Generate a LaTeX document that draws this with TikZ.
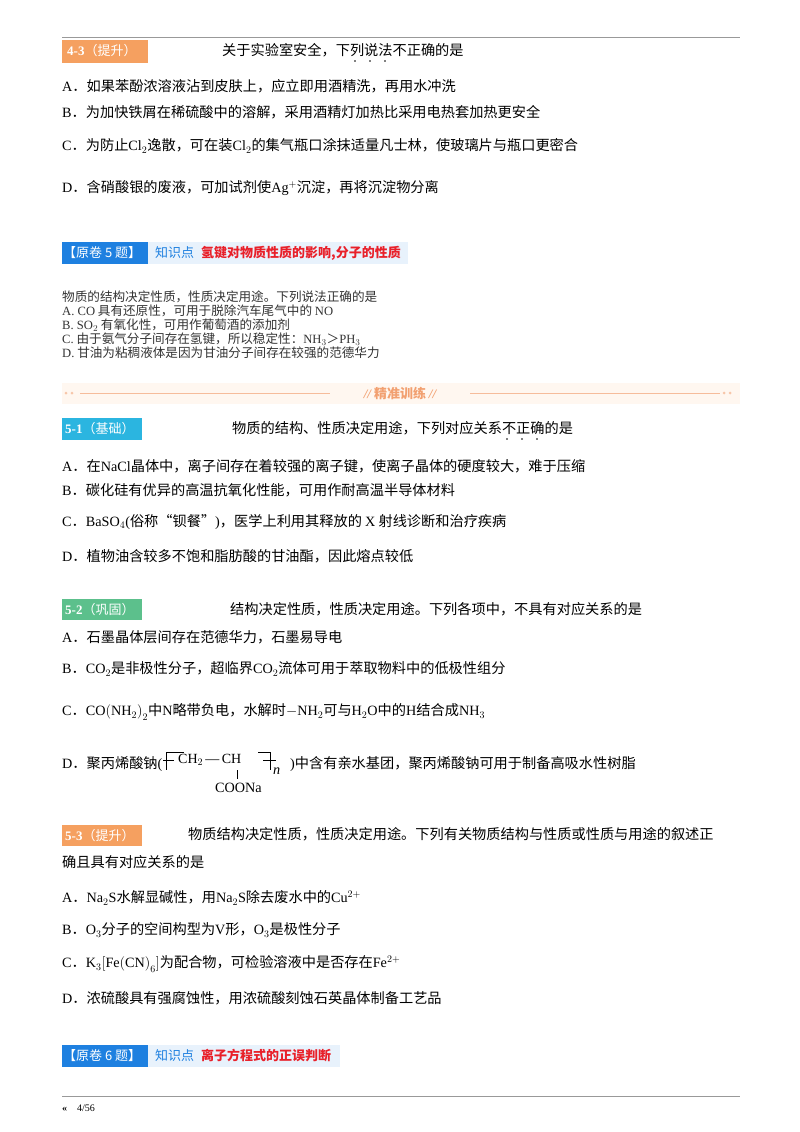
\documentclass[tikz,border=0pt]{standalone}
\usepackage{fontspec}
\setmainfont{Noto Sans CJK SC}
\newfontfamily\lat{Liberation Serif}
\newcommand{\Lt}[1]{{\lat #1}}
\definecolor{tagor}{HTML}{F5A060}
\definecolor{tagcy}{HTML}{2BB5E0}
\definecolor{taggr}{HTML}{5CC08C}
\definecolor{tagbl}{HTML}{1E80E0}
\definecolor{kbg}{HTML}{E8F2FC}
\definecolor{kred}{HTML}{E8202A}
\definecolor{bann}{HTML}{F2A070}
\begin{document}
\begin{tikzpicture}[x=1pt,y=-1pt,
  txt/.style={anchor=west,inner sep=0pt,font=\fontsize{14.2}{16}\selectfont},
  small/.style={anchor=west,inner sep=0pt,font=\fontsize{12.6}{14}\selectfont,text=black!80}]
\useasboundingbox (0,0) rectangle (800,1132);
\fill[white] (0,0) rectangle (800,1132);
\draw[black!40] (62,37) -- (740,37);
% 4-3
\fill[tagor] (62,40) rectangle (148,63);
\node[txt,text=white,font=\fontsize{13}{14}\selectfont] (t43) at (67,51) {\Lt{\bfseries 4-3}（提升）};
\node[txt] (q43) at (222,50) {关于实验室安全，下列说法不正确的是};
\foreach \x in {355,370,385} \fill (\x,61) circle (0.9);
\node[txt] (a43) at (62,86) {\Lt{A}．如果苯酚浓溶液沾到皮肤上，应立即用酒精洗，再用水冲洗};
\node[txt] (b43) at (62,112) {\Lt{B}．为加快铁屑在稀硫酸中的溶解，采用酒精灯加热比采用电热套加热更安全};
\node[txt] (c43) at (62,146) {\Lt{C}．为防止\Lt{Cl$_2$}逸散，可在装\Lt{Cl$_2$}的集气瓶口涂抹适量凡士林，使玻璃片与瓶口更密合};
\node[txt] (d43) at (62,188) {\Lt{D}．含硝酸银的废液，可加试剂使\Lt{Ag$^+$}沉淀，再将沉淀物分离};
% 原卷5
\fill[kbg] (148,242) rectangle (408,264);
\fill[tagbl] (62,242) rectangle (148,264);
\node[txt,text=white,font=\fontsize{13}{14}\selectfont] (y5) at (63,253) {【原卷 5 题】};
\node[txt,text=tagbl,font=\fontsize{13}{14}\selectfont] (k5) at (155,253) {知识点};
\node[txt,text=kred,font=\fontsize{13}{14}\selectfont\bfseries] (k5b) at (201,253) {氢键对物质性质的影响,分子的性质};
\node[small] (i1) at (62,297) {物质的结构决定性质，性质决定用途。下列说法正确的是};
\node[small] (i2) at (62,311) {\Lt{A. CO} 具有还原性，可用于脱除汽车尾气中的 \Lt{NO}};
\node[small] (i3) at (62,325) {\Lt{B. SO$_2$} 有氧化性，可用作葡萄酒的添加剂};
\node[small] (i4) at (62,339) {\Lt{C.} 由于氨气分子间存在氢键，所以稳定性：\Lt{NH$_3$}＞\Lt{PH$_3$}};
\node[small] (i5) at (62,353) {\Lt{D.} 甘油为粘稠液体是因为甘油分子间存在较强的范德华力};
% banner
\fill[orange!6] (62,383) rectangle (740,404);
\draw[bann!70,line width=0.8pt] (80,393) -- (330,393);
\draw[bann!70,line width=0.8pt] (470,393) -- (720,393);
\foreach \x in {66,72,724,730} \fill[bann!60] (\x,393) circle (1.5);
\node[inner sep=0pt,text=bann,font=\fontsize{13}{14}\selectfont\bfseries] (ban) at (400,393) {\Lt{\itshape //} 精准训练 \Lt{\itshape //}};
% 5-1
\fill[tagcy] (62,418) rectangle (142,440);
\node[txt,text=white,font=\fontsize{13}{14}\selectfont] (t51) at (65,429) {\Lt{\bfseries 5-1}（基础）};
\node[txt] (q51) at (232,428) {物质的结构、性质决定用途，下列对应关系不正确的是};
\foreach \x in {507,522,537} \fill (\x,439) circle (0.9);
\node[txt] (a51) at (62,466) {\Lt{A}．在\Lt{NaCl}晶体中，离子间存在着较强的离子键，使离子晶体的硬度较大，难于压缩};
\node[txt] (b51) at (62,490) {\Lt{B}．碳化硅有优异的高温抗氧化性能，可用作耐高温半导体材料};
\node[txt] (c51) at (62,522) {\Lt{C}．\Lt{BaSO$_4$(}俗称“钡餐”\Lt{)}，医学上利用其释放的 \Lt{X} 射线诊断和治疗疾病};
\node[txt] (d51) at (62,556) {\Lt{D}．植物油含较多不饱和脂肪酸的甘油酯，因此熔点较低};
% 5-2
\fill[taggr] (62,599) rectangle (142,620);
\node[txt,text=white,font=\fontsize{13}{14}\selectfont] (t52) at (65,610) {\Lt{\bfseries 5-2}（巩固）};
\node[txt] (q52) at (230,609) {结构决定性质，性质决定用途。下列各项中，不具有对应关系的是};
\node[txt] (a52) at (62,637) {\Lt{A}．石墨晶体层间存在范德华力，石墨易导电};
\node[txt] (b52) at (62,669) {\Lt{B}．\Lt{CO$_2$}是非极性分子，超临界\Lt{CO$_2$}流体可用于萃取物料中的低极性组分};
\node[txt] (c52) at (62,712) {\Lt{C}．\Lt{CO$\bigl($NH$_2\bigr)_2$}中\Lt{N}略带负电，水解时\Lt{$-$NH$_2$}可与\Lt{H$_2$O}中的\Lt{H}结合成\Lt{NH$_3$}};
\node[txt] (d52) at (62,764) {\Lt{D}．聚丙烯酸钠\Lt{(}};
\node[txt] (poly) at (178,760) {\Lt{\fontsize{14}{15}\selectfont CH$_2$\,—\,CH}};
\draw[line width=0.7pt] (166,752) -- (166,770) (166,752)--(184,752) (163,760)--(174,760);
\draw[line width=0.7pt] (270,752) -- (270,770) (270,752)--(258,752) (263,760)--(276,760);
\node[txt] (nn) at (273,771) {\Lt{\itshape n}};
\draw[line width=0.6pt] (237,770) -- (237,779);
\node[txt] (coo) at (215,788) {\Lt{COONa}};
\node[txt] (d52b) at (290,764) {\Lt{)}中含有亲水基团，聚丙烯酸钠可用于制备高吸水性树脂};
% 5-3
\fill[tagor] (62,825) rectangle (142,846);
\node[txt,text=white,font=\fontsize{13}{14}\selectfont] (t53) at (65,836) {\Lt{\bfseries 5-3}（提升）};
\node[txt] (q53) at (188,834) {物质结构决定性质，性质决定用途。下列有关物质结构与性质或性质与用途的叙述正};
\node[txt] (q53b) at (62,862) {确且具有对应关系的是};
\node[txt] (a53) at (62,898) {\Lt{A}．\Lt{Na$_2$S}水解显碱性，用\Lt{Na$_2$S}除去废水中的\Lt{Cu$^{2+}$}};
\node[txt] (b53) at (62,930) {\Lt{B}．\Lt{O$_3$}分子的空间构型为\Lt{V}形，\Lt{O$_3$}是极性分子};
\node[txt] (c53) at (62,964) {\Lt{C}．\Lt{K$_3\bigl[$Fe$\bigl($CN$\bigr)_6\bigr]$}为配合物，可检验溶液中是否存在\Lt{Fe$^{2+}$}};
\node[txt] (d53) at (62,998) {\Lt{D}．浓硫酸具有强腐蚀性，用浓硫酸刻蚀石英晶体制备工艺品};
% 原卷6
\fill[kbg] (148,1045) rectangle (340,1067);
\fill[tagbl] (62,1045) rectangle (148,1067);
\node[txt,text=white,font=\fontsize{13}{14}\selectfont] (y6) at (63,1056) {【原卷 6 题】};
\node[txt,text=tagbl,font=\fontsize{13}{14}\selectfont] (k6) at (155,1056) {知识点};
\node[txt,text=kred,font=\fontsize{13}{14}\selectfont\bfseries] (k6b) at (201,1056) {离子方程式的正误判断};
\draw[black!40] (62,1096) -- (740,1096);
\node[anchor=west,inner sep=0pt,font=\fontsize{10}{11}\selectfont] (pg) at (62,1108) {\Lt{\bfseries «}\quad \Lt{4/56}};
\end{tikzpicture}
\end{document}
